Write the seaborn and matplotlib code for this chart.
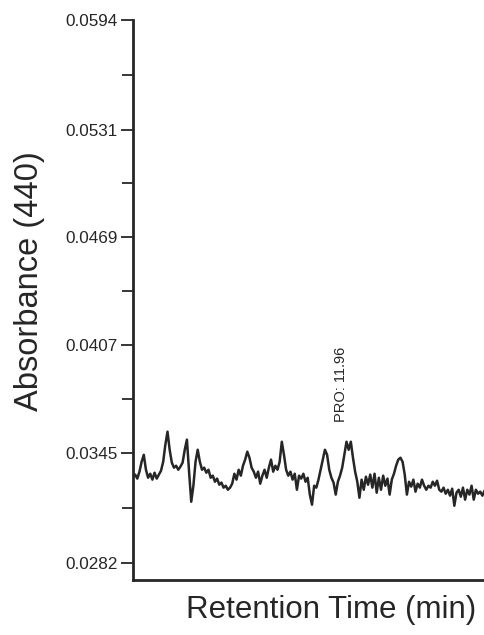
import numpy as np
import pandas as pd
import matplotlib
matplotlib.use("Agg")
import matplotlib.pyplot as plt
import seaborn as sns
from matplotlib.ticker import FixedLocator

# ---- data ----
t_start = 2.0
t_step = 0.1
absorbance = [
    0.03314, 0.03326, 0.03303, 0.03343, 0.03400, 0.03440, 0.03354, 0.03308, 0.03331, 0.03297,
    0.03337, 0.03303, 0.03326, 0.03349, 0.03400, 0.03498, 0.03573, 0.03469, 0.03395, 0.03366,
    0.03377, 0.03354, 0.03372, 0.03395, 0.03469, 0.03527, 0.03343, 0.03170, 0.03262, 0.03400,
    0.03469, 0.03400, 0.03354, 0.03366, 0.03337, 0.03354, 0.03308, 0.03320, 0.03285, 0.03303,
    0.03268, 0.03280, 0.03251, 0.03262, 0.03239, 0.03251, 0.03274, 0.03331, 0.03297, 0.03354,
    0.03320, 0.03377, 0.03412, 0.03458, 0.03423, 0.03366, 0.03343, 0.03308, 0.03343, 0.03274,
    0.03320, 0.03354, 0.03308, 0.03366, 0.03412, 0.03343, 0.03377, 0.03354, 0.03400, 0.03515,
    0.03440, 0.03354, 0.03320, 0.03343, 0.03297, 0.03331, 0.03239, 0.03320, 0.03303, 0.03331,
    0.03285, 0.03308, 0.03211, 0.03153, 0.03262, 0.03251, 0.03297, 0.03354, 0.03412, 0.03469,
    0.03440, 0.03354, 0.03308, 0.03280, 0.03211, 0.03285, 0.03320, 0.03366, 0.03440, 0.03515,
    0.03469, 0.03515, 0.03423, 0.03343, 0.03285, 0.03193, 0.03297, 0.03239, 0.03314, 0.03268,
    0.03326, 0.03251, 0.03331, 0.03222, 0.03308, 0.03239, 0.03320, 0.03262, 0.03303, 0.03211,
    0.03297, 0.03331, 0.03377, 0.03412, 0.03423, 0.03400, 0.03326, 0.03211, 0.03285, 0.03257,
    0.03297, 0.03228, 0.03274, 0.03251, 0.03297, 0.03262, 0.03239, 0.03262, 0.03251, 0.03285,
    0.03262, 0.03291, 0.03239, 0.03228, 0.03251, 0.03216, 0.03239, 0.03205, 0.03245, 0.03147,
    0.03222, 0.03239, 0.03199, 0.03251, 0.03182, 0.03239, 0.03211, 0.03262, 0.03182, 0.03239,
    0.03216, 0.03228, 0.03205, 0.03234, 0.03216, 0.03228,
]
retention_time = [round(t_start + t_step * i, 2) for i in range(len(absorbance))]

y_ticks = [0.0282, 0.0345, 0.0407, 0.0469, 0.0531, 0.0594]
y_tick_labels = ["0.0282", "0.0345", "0.0407", "0.0469", "0.0531", "0.0594"]
peak_label = "PRO: 11.96"
peak_label_time = 11.64
peak_label_value = 0.0363

df = pd.DataFrame({"Retention Time (min)": retention_time, "Absorbance (440)": absorbance})

# ---- plot ----
sns.set_theme(style="white")
plt.rcParams["font.family"] = ["Liberation Sans", "DejaVu Sans"]

fig = plt.figure(figsize=(4.84, 6.35), dpi=100)
ax = fig.add_axes([133 / 484, 55 / 635, 351 / 484 + 0.01, 560 / 635])

ink = "#262626"
sns.lineplot(data=df, x="Retention Time (min)", y="Absorbance (440)", ax=ax,
             color=ink, linewidth=1.8, estimator=None)

ax.set_xlim(2.0, 18.5)
ax.set_ylim(0.0272, 0.0594)

ax.yaxis.set_major_locator(FixedLocator(y_ticks))
ax.set_yticklabels(y_tick_labels, fontsize=12.3, color=ink)
minor = [(a + b) / 2 for a, b in zip(y_ticks[:-1], y_ticks[1:])]
ax.yaxis.set_minor_locator(FixedLocator(minor))
ax.set_xticks([])

ax.tick_params(axis="y", which="major", direction="out", length=9, width=1.3,
               color=ink, pad=2, left=True)
ax.tick_params(axis="y", which="minor", direction="out", length=8, width=1.3,
               color=ink, left=True)

for s in ["top", "right"]:
    ax.spines[s].set_visible(False)
for s in ["left", "bottom"]:
    ax.spines[s].set_visible(True)
    ax.spines[s].set_color(ink)
    ax.spines[s].set_linewidth(2.0)

ax.set_xlabel("")
ax.set_ylabel("")
fig.text(30 / 484, 1 - 281 / 635, "Absorbance (440)", rotation=90, fontsize=23.5,
         color=ink, ha="center", va="center")
fig.text(331 / 484, 1 - 610 / 635, "Retention Time (min)", fontsize=22.5,
         color=ink, ha="center", va="center")

ax.text(peak_label_time, peak_label_value, peak_label, rotation=90, fontsize=10.5,
        color=ink, ha="center", va="bottom")

fig.savefig("out.png", dpi=100)
